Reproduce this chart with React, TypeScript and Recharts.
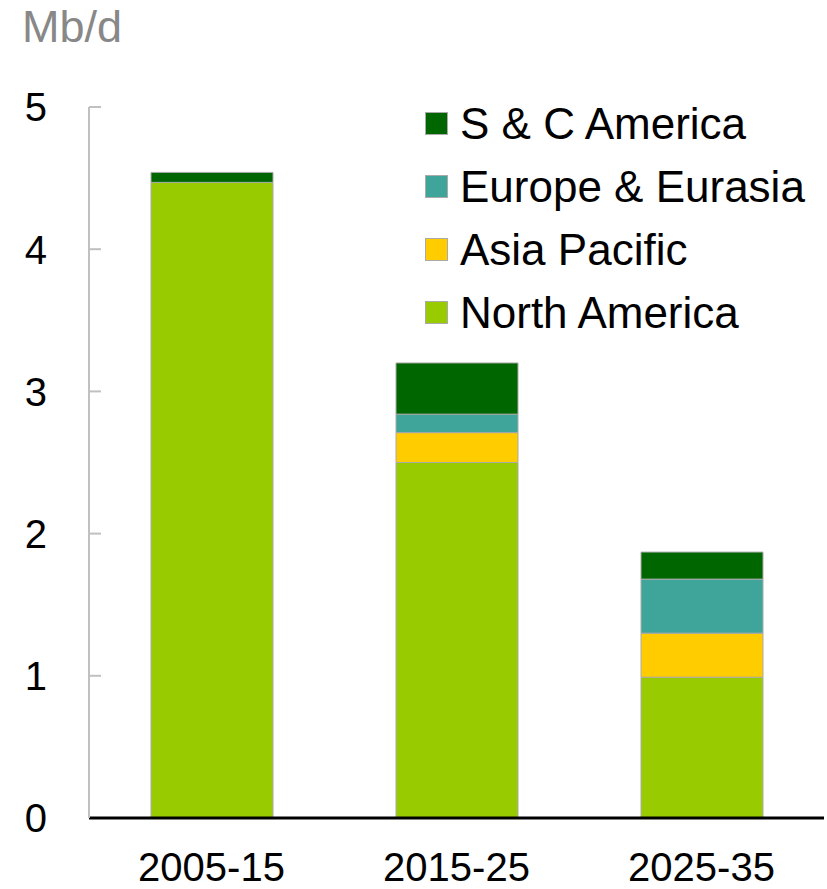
import { BarChart, Bar, XAxis, YAxis } from 'recharts'

const periods = ['2005-15', '2015-25', '2025-35']
const northAmerica = [4.47, 2.5, 0.99]
const asiaPacific = [0, 0.21, 0.31]
const europeEurasia = [0, 0.13, 0.38]
const scAmerica = [0.07, 0.36, 0.19]
const yTicks = [0, 1, 2, 3, 4, 5]

const SERIES = [
  { key: 'na', name: 'North America', color: '#99cc00', values: northAmerica },
  { key: 'ap', name: 'Asia Pacific', color: '#ffcc00', values: asiaPacific },
  { key: 'ee', name: 'Europe & Eurasia', color: '#3fa59a', values: europeEurasia },
  { key: 'sc', name: 'S & C America', color: '#006600', values: scAmerica },
]

const data = periods.map((p, i) => {
  const row: Record<string, string | number> = { period: p }
  SERIES.forEach((s) => {
    row[s.key] = s.values[i]
  })
  return row
})

const FONT = '"Liberation Sans", Arial, sans-serif'

function YTick(props: any) {
  const { x, y, payload } = props
  return (
    <g>
      {payload.value !== 0 && (
        <line x1={x} y1={y} x2={x + 12} y2={y} stroke="#c0c0c0" strokeWidth={2} />
      )}
      <text x={x - 42} y={y} dy="0.36em" textAnchor="end" fontSize={40} fill="#000" fontFamily={FONT}>
        {payload.value}
      </text>
    </g>
  )
}

function LegendBox() {
  return (
    <div style={{ position: 'absolute', left: 425, top: 92, fontFamily: FONT }}>
      {[...SERIES].reverse().map((s) => (
        <div key={s.key} style={{ display: 'flex', alignItems: 'center', height: 63 }}>
          <span
            style={{
              display: 'inline-block',
              width: 21,
              height: 21,
              background: s.color,
              border: '1px solid #aaa',
              marginRight: 12,
            }}
          />
          <span style={{ fontSize: 44, color: '#000', whiteSpace: 'nowrap', lineHeight: '63px' }}>{s.name}</span>
        </div>
      ))}
    </div>
  )
}

export default function App() {
  return (
    <div style={{ position: 'absolute', left: 0, top: 0, width: 827, height: 889, background: '#fff' }}>
      <div
        style={{
          position: 'absolute',
          left: 22,
          top: 4,
          fontSize: 45,
          lineHeight: '45px',
          color: '#888',
          fontFamily: FONT,
        }}
      >
        Mb/d
      </div>
      <BarChart
        width={827}
        height={889}
        data={data}
        margin={{ top: 107, right: 3, left: 0, bottom: 0 }}
        barSize={122}
      >
        <XAxis
          dataKey="period"
          height={71}
          axisLine={{ stroke: '#000', strokeWidth: 3 }}
          tickLine={false}
          tickSize={0}
          tickMargin={35}
          tick={{ fontSize: 40, fill: '#000', fontFamily: FONT }}
        />
        <YAxis
          width={89}
          domain={[0, 5]}
          ticks={yTicks}
          axisLine={{ stroke: '#c0c0c0', strokeWidth: 2 }}
          tickLine={false}
          tickSize={0}
          tickMargin={0}
          tick={<YTick />}
          interval={0}
        />
        {SERIES.map((s) => (
          <Bar
            key={s.key}
            dataKey={s.key}
            name={s.name}
            stackId="a"
            fill={s.color}
            stroke="#aaa"
            strokeWidth={1}
            isAnimationActive={false}
          />
        ))}
      </BarChart>
      <LegendBox />
    </div>
  )
}
